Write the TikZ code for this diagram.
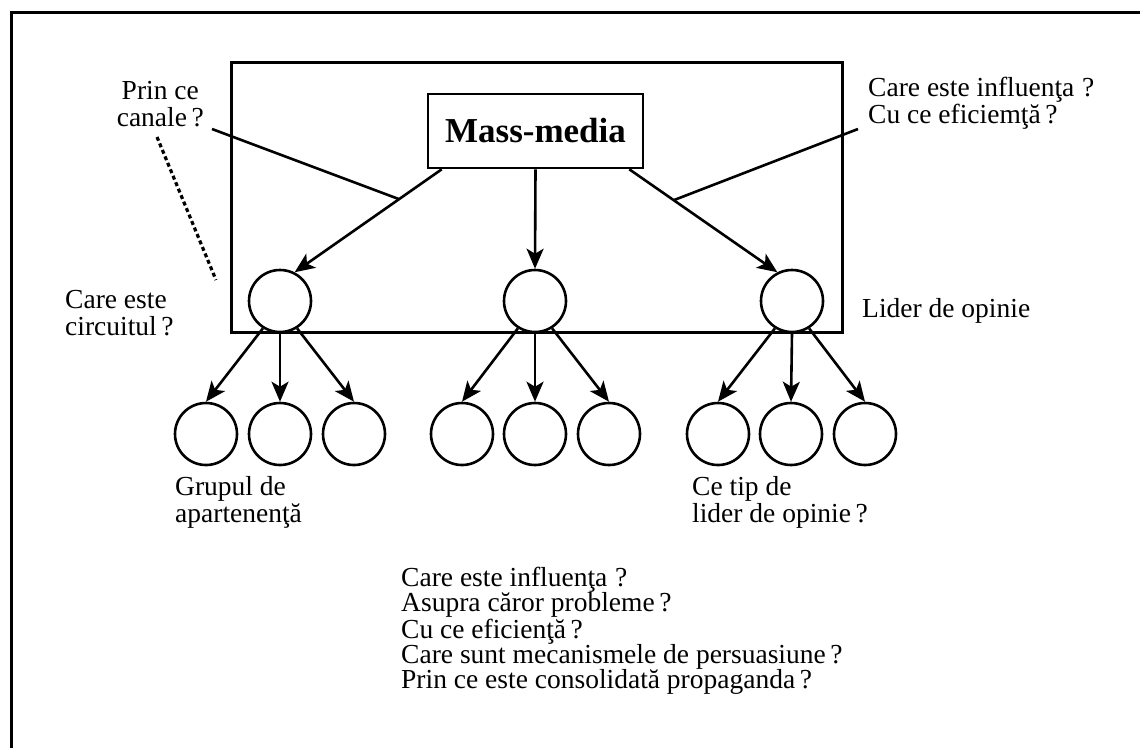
\documentclass[tikz,border=0pt]{standalone}
\usepackage{fontspec}
\setmainfont{Liberation Serif}
\usetikzlibrary{arrows.meta,calc}
\begin{document}
\begin{tikzpicture}[x=1pt,y=-1pt,
  txt/.style={inner sep=0pt,font=\fontsize{27.5}{27}\selectfont},
  frameline/.style={line width=3pt},
  circ/.style={draw,circle,fill=white,line width=2.6pt,minimum size=62pt,inner sep=0pt},
  conn/.style={line width=2.6pt},
  arr/.style={conn,-{Stealth[length=20pt,width=17pt,inset=5pt]}},
  dotline/.style={line width=3.2pt,dash pattern=on 4pt off 3pt}]
\useasboundingbox (0,0) rectangle (1140,748);

% outer frame (top and left edges)
\draw[frameline] (11,748) -- (11,12) -- (1140,12);

% box around the media and the opinion leaders
\draw[frameline] (231,62) rectangle (842,332);

% source
\node[draw,line width=2.6pt,minimum width=215pt,minimum height=74pt,inner sep=0pt,
      font=\fontsize{35}{35}\selectfont\bfseries] (mm) at (535.5,131) {Mass-media};

% opinion leaders
\node[circ] (c1) at (280,301) {};
\node[circ] (c2) at (535,301) {};
\node[circ] (c3) at (792,301) {};

% group members
\node[circ] (c11) at (206,434) {};
\node[circ] (c12) at (280,434) {};
\node[circ] (c13) at (354,434) {};
\node[circ] (c21) at (462,434) {};
\node[circ] (c22) at (535,434) {};
\node[circ] (c23) at (609,434) {};
\node[circ] (c31) at (718,434) {};
\node[circ] (c32) at (791,434) {};
\node[circ] (c33) at (865,434) {};

% media to leaders
\coordinate (m1) at ($(mm.south west)+(15,0)$);
\coordinate (m3) at ($(mm.south east)+(-15,0)$);
\draw[arr] (m1) -- (c1.63);
\draw[arr] (mm.south) -- (c2.north);
\draw[arr] (m3) -- (c3.117);

% leaders to group members
\foreach \g in {1,2,3}{
  \draw[arr] (c\g.-122) -- (c\g1.north);
  \draw[arr] (c\g.south) -- (c\g2.north);
  \draw[arr] (c\g.-58) -- (c\g3.north);
}

% question pointers
\coordinate (qa) at (212,129);
\coordinate (qb) at (858,129);
\draw[conn] (qa) -- ($(m1)!0.29!(c1.63)$);
\draw[conn] (qb) -- ($(m3)!0.3!(c3.117)$);
\coordinate (d1) at (157,137);
\coordinate (d2) at (216,280);
\draw[dotline] (d1) -- (d2);

% labels
\node[txt,anchor=north east,align=center] (tcan) at (204,81.3) {Prin ce\\canale\,?};
\node[txt,anchor=north west,align=left] (tcirc) at (65,290.3) {Care este\\circuitul\,?};
\node[txt,anchor=north west,align=left] (tinf) at (868,77.3) {Care este influenţa\;?\\Cu ce eficiemţă\,?};
\node[txt,anchor=north west] (tlid) at (862,298.3) {Lider de opinie};
\node[txt,anchor=north west,align=left] (tgrp) at (175,476.3) {Grupul de\\apartenenţă};
\node[txt,anchor=north west,align=left] (ttip) at (692,476.3) {Ce tip de\\lider de opinie\,?};
\node[txt,anchor=north west,align=left,font=\fontsize{27.5}{25}\selectfont] (tq) at (401,567.3)
  {Care este influenţa\;?\\Asupra căror probleme\,?\\Cu ce eficienţă\,?\\Care sunt mecanismele de persuasiune\,?\\Prin ce este consolidată propaganda\,?};
\end{tikzpicture}
\end{document}
